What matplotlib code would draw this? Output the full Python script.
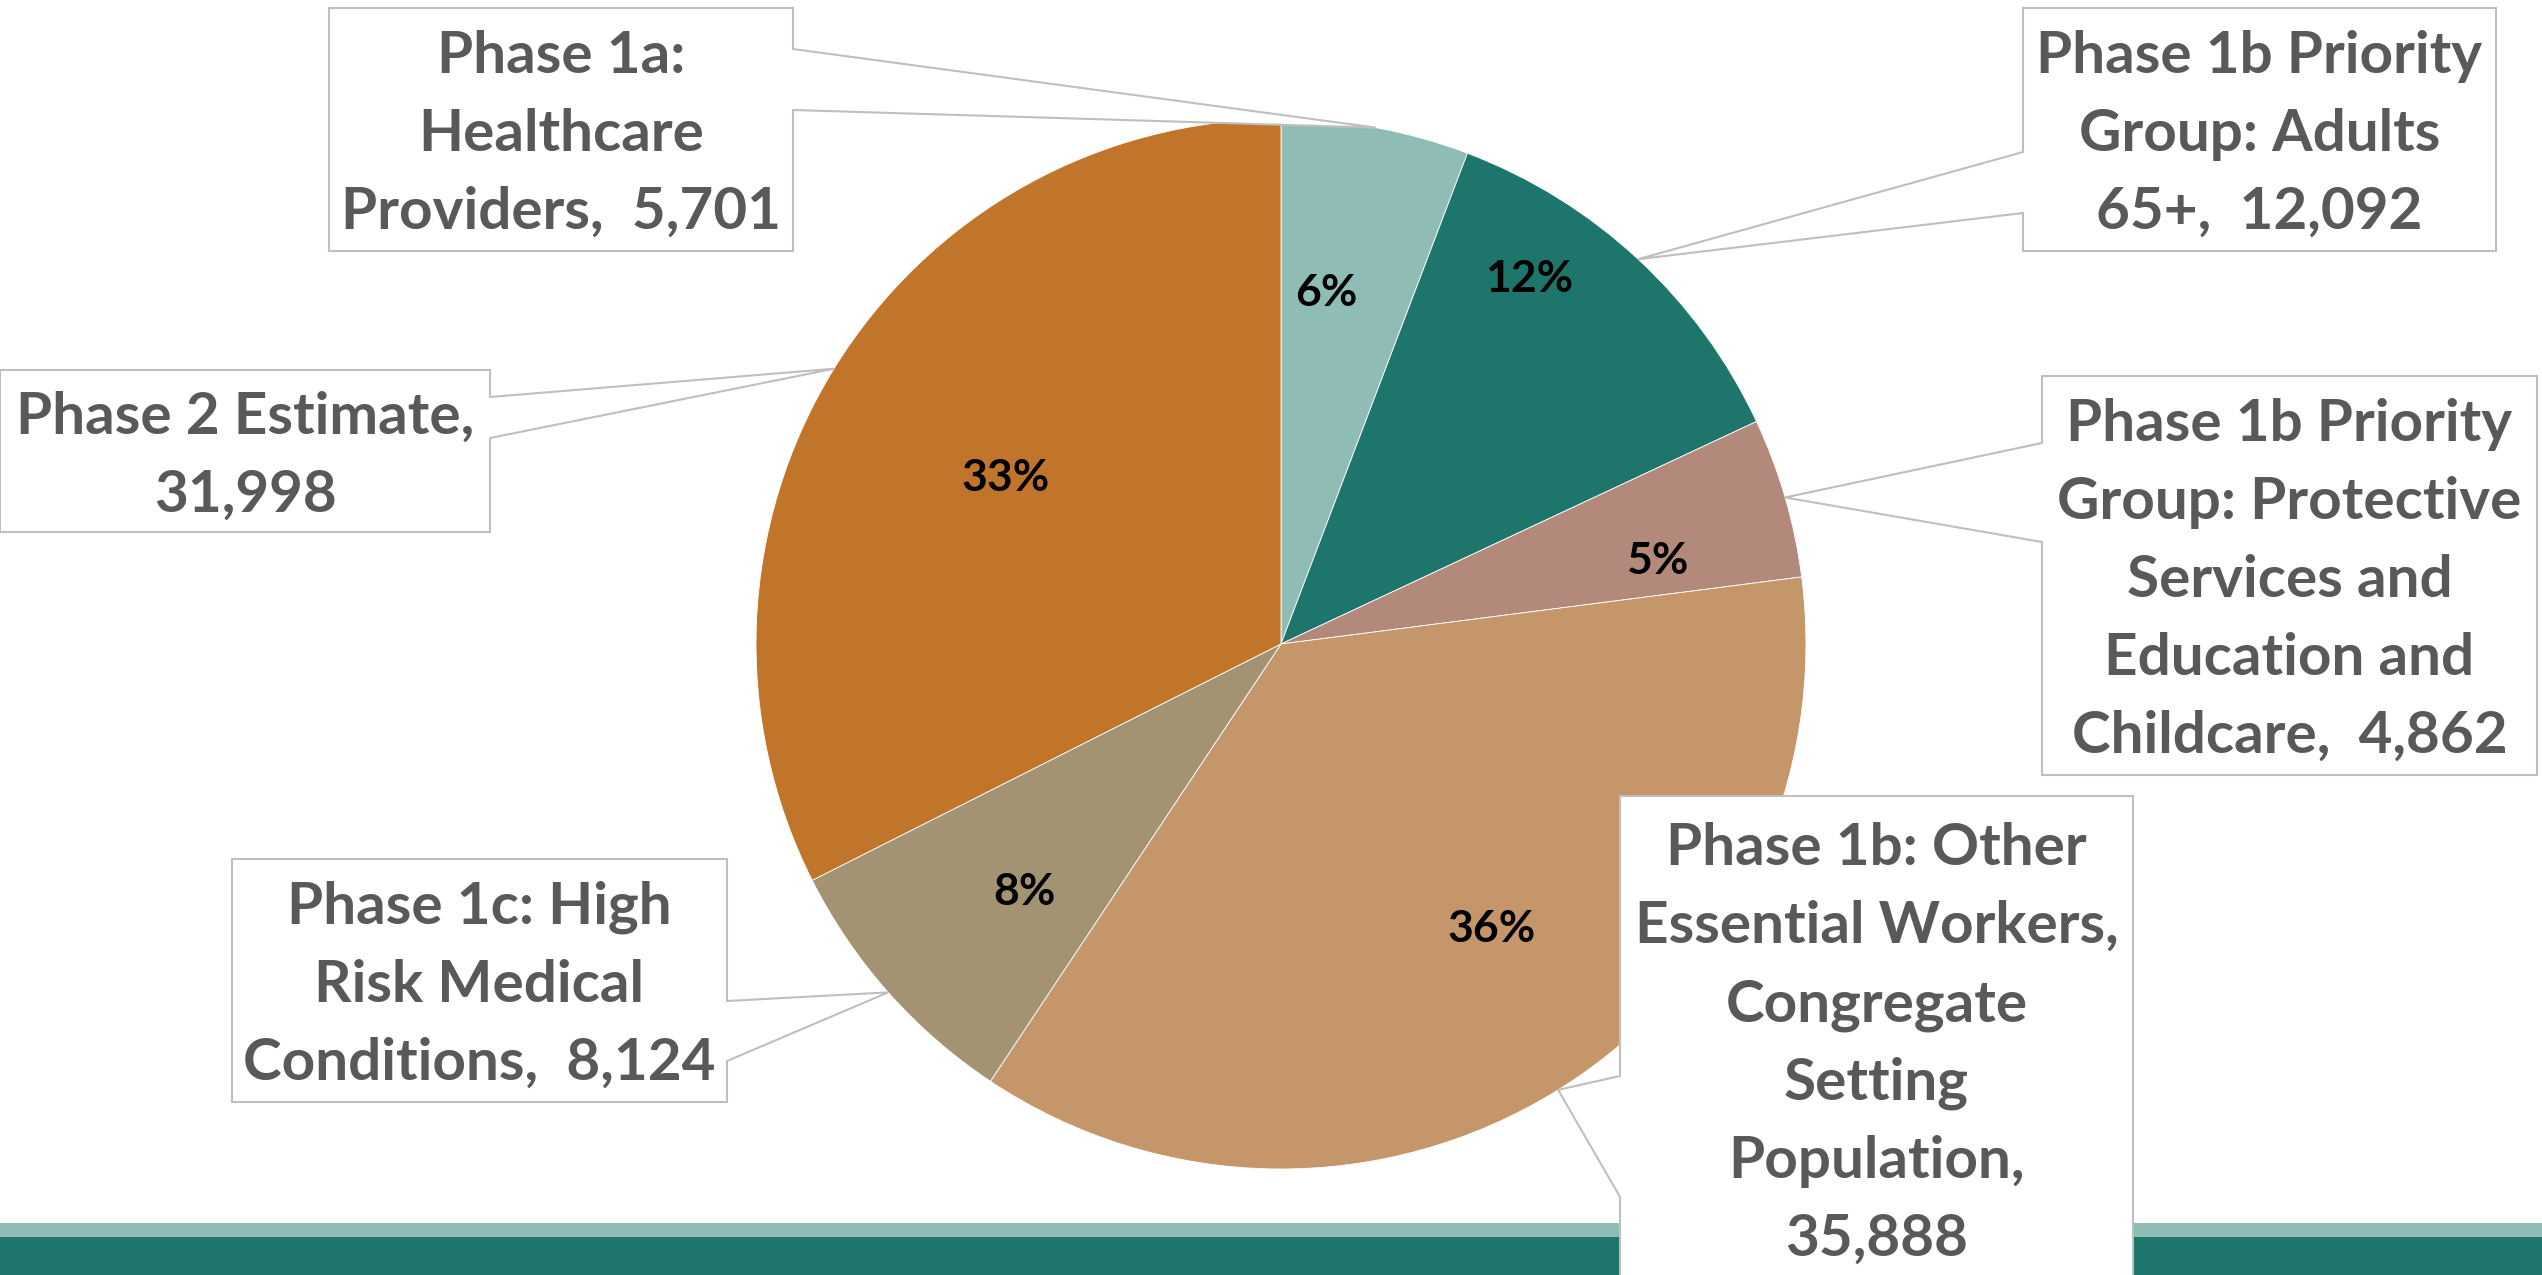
import numpy as np
import matplotlib
matplotlib.use("Agg")
import matplotlib.pyplot as plt
from matplotlib.patches import Polygon, Rectangle

plt.rcParams["font.family"] = ["Lato", "DejaVu Sans"]

# data (clockwise from 12 o'clock)
names = [
    "Phase 1a:\nHealthcare\nProviders",
    "Phase 1b Priority\nGroup: Adults\n65+",
    "Phase 1b Priority\nGroup: Protective\nServices and\nEducation and\nChildcare",
    "Phase 1b: Other\nEssential Workers,\nCongregate\nSetting\nPopulation",
    "Phase 1c: High\nRisk Medical\nConditions",
    "Phase 2 Estimate",
]
values = [5701, 12092, 4862, 35888, 8124, 31998]
pct_labels = ["6%", "12%", "5%", "36%", "8%", "33%"]
value_sep = [",  ", ",  ", ",  ", ",\n", ",  ", ",\n"]

colors = ["#8FBCB5", "#1D756B", "#B3897C", "#C4966A", "#A39373", "#C0752A"]
TXT = "#595959"
EDGE = "#BFBFBF"

# layout in pixel space (y down)
W, H = 2542, 1275
cx, cy, R = 1281, 644, 525
# callout boxes: x0, y0, x1, y1, side of pointer, pointer base y1, y2
boxes = [
    (329, 8, 793, 251, "right", 49, 110),
    (2023, 8, 2496, 251, "left", 152, 213),
    (2042, 376, 2537, 775, "left", 443, 542),
    (1620, 796, 2133, 1282, "left", 1076, 1197),
    (232, 859, 727, 1102, "right", 1001, 1061),
    (0, 370, 490, 532, "right", 397, 438),
]
pct_r = [0.674, 0.84, 0.733, 0.674, 0.68, 0.613]
pct_shift = [-3.1, -8.7, 3.8, -4.6, -2.5, -0.6]

fig = plt.figure(figsize=(W / 100, H / 100), dpi=100)
ax = fig.add_axes([0, 0, 1, 1])

# bottom bands
ax.add_patch(Rectangle((0, 1223), W, 14, color="#8FBCB5", lw=0, zorder=1))
ax.add_patch(Rectangle((0, 1237), W, 40, color="#1D756B", lw=0, zorder=1))

# y axis is flipped, so counterclock in data = clockwise on screen
wedges, _ = ax.pie(values, colors=colors, startangle=-90, counterclock=True,
                   center=(cx, cy), radius=R,
                   wedgeprops=dict(edgecolor="white", linewidth=0.6))
for w in wedges:
    w.set_zorder(2)

total = sum(values)
cum = np.cumsum([0] + values)
for i, v in enumerate(values):
    mid = (cum[i] + v / 2) / total * 360 + pct_shift[i]   # degrees clockwise from top
    a = np.radians(mid)
    px = cx + pct_r[i] * R * np.sin(a)
    py = cy - pct_r[i] * R * np.cos(a)
    ax.text(px, py, pct_labels[i], ha="center", va="center", fontsize=32,
            fontweight="bold", color="black", zorder=3)

    # callout box with pointer to the slice edge
    x0, y0, x1, y1, side, b1, b2 = boxes[i]
    a0 = np.radians((cum[i] + v / 2) / total * 360)
    tx = cx + R * np.sin(a0)
    ty = cy - R * np.cos(a0)
    if side == "left":
        pts = [(x0, y0), (x1, y0), (x1, y1), (x0, y1), (x0, b2), (tx, ty), (x0, b1)]
    else:
        pts = [(x0, y0), (x1, y0), (x1, b1), (tx, ty), (x1, b2), (x1, y1), (x0, y1)]
    ax.add_patch(Polygon(pts, closed=True, facecolor="white", edgecolor=EDGE,
                         linewidth=1.5, zorder=4))
    label = names[i] + value_sep[i] + f"{v:,}"
    ax.text((x0 + x1) / 2, (y0 + y1) / 2 + 5, label, ha="center", va="center",
            fontsize=42, fontweight="bold", color=TXT, linespacing=1.58, zorder=5)

ax.set_xlim(0, W)
ax.set_ylim(H, 0)
ax.set_aspect("equal")
ax.axis("off")

fig.savefig("out.png", dpi=100, facecolor="white")
